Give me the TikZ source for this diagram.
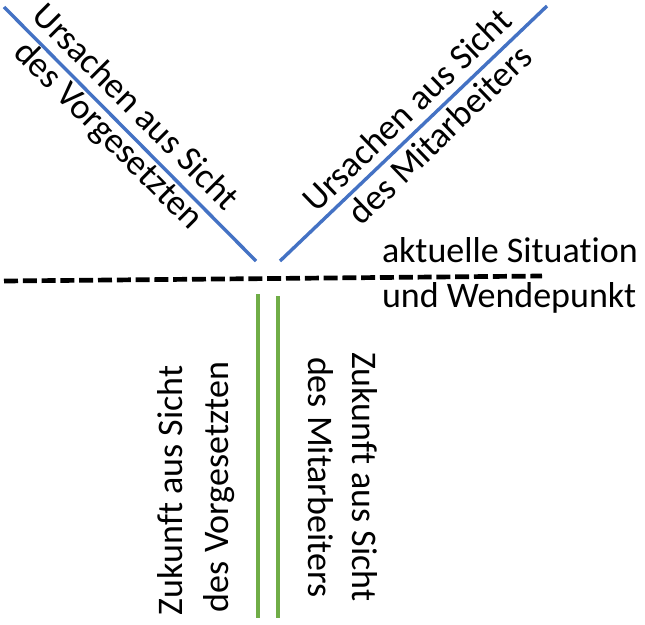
\documentclass[tikz,border=0pt]{standalone}
\usepackage{fontspec}
\setmainfont{Carlito}[Ligatures={NoCommon,NoContextual}]
\definecolor{lineblue}{HTML}{4472C4}
\definecolor{linegreen}{HTML}{70AD47}
\begin{document}
\begin{tikzpicture}[x=1pt,y=-1pt,
  lbl/.style={inner sep=0pt,outer sep=0pt,font=\fontsize{36}{43}\selectfont,text=black},
  blueline/.style={draw=lineblue,line width=3.4pt},
  greenline/.style={draw=linegreen,line width=4pt},
  cutline/.style={draw=black,line width=4.7pt,dash pattern=on 14pt off 4.8pt}]
\useasboundingbox[fill=white] (0,0) rectangle (645,624);
% connectors
\coordinate (bl1) at (4,7);
\coordinate (bl2) at (256,261);
\coordinate (br1) at (547,6);
\coordinate (br2) at (280,261);
\coordinate (d1) at (4,281);
\coordinate (d2) at (542,276);
\coordinate (g1a) at (258,294);
\coordinate (g1b) at (258,618);
\coordinate (g2a) at (278,296);
\coordinate (g2b) at (278,618);
\draw[blueline] (bl1) -- (bl2);
\draw[blueline] (br1) -- (br2);
\draw[cutline] (d1) -- (d2);
\draw[greenline] (g1a) -- (g1b);
\draw[greenline] (g2a) -- (g2b);
% texts
\node[lbl,rotate=-45,anchor=base west] (tl1) at (30.9,17.8) {Ursachen aus Sicht};
\node[lbl,rotate=-45,anchor=base west] (tl2) at (12.5,54.4) {des Vorgesetzten};
\node[lbl,rotate=44,anchor=base west] (tr1) at (316.5,213.5) {Ursachen aus Sicht};
\node[lbl,rotate=44,anchor=base west] (tr2) at (361.6,226.6) {des Mitarbeiters};
\node[lbl,anchor=base west] (m1) at (382,262) {aktuelle Situation};
\node[lbl,anchor=base west] (m2) at (382,307) {und Wendepunkt};
\node[lbl,rotate=90,anchor=base west] (bl1t) at (182,615) {Zukunft aus Sicht};
\node[lbl,rotate=90,anchor=base west] (bl2t) at (228,612) {des Vorgesetzten};
\node[lbl,rotate=-90,anchor=base west] (br1t) at (352,352) {Zukunft aus Sicht};
\node[lbl,rotate=-90,anchor=base west] (br2t) at (308,357) {des Mitarbeiters};
\end{tikzpicture}
\end{document}
